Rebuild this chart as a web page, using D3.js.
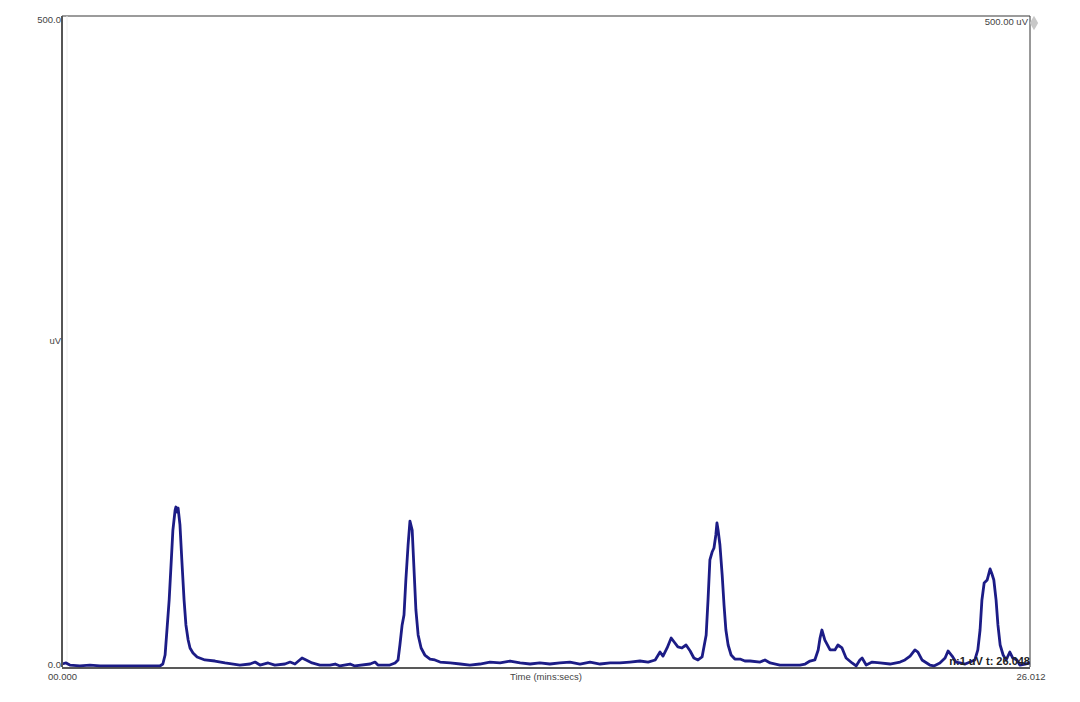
<!DOCTYPE html>
<html><head><meta charset="utf-8">
<script src="https://cdn.jsdelivr.net/npm/d3@7"></script>
<style>body{margin:0;background:#fff}svg{display:block}text{font-family:"Liberation Sans",Arial,sans-serif}</style>
</head><body><svg id="c" width="1080" height="702"></svg>
<script>
// time in minutes
const timeMin = [0.00,0.11,0.21,0.48,0.75,1.02,1.56,2.10,2.63,2.71,2.77,2.82,2.88,2.93,2.98,3.04,3.06,3.09,3.12,3.17,3.22,3.28,3.33,3.39,3.44,3.52,3.63,3.84,4.11,4.38,4.78,5.05,5.19,5.32,5.54,5.72,5.99,6.13,6.26,6.45,6.56,6.72,6.93,7.20,7.34,7.47,7.74,7.87,8.28,8.41,8.49,8.81,8.95,9.03,9.08,9.14,9.19,9.24,9.30,9.35,9.41,9.46,9.51,9.57,9.65,9.75,9.89,10.02,10.16,10.43,10.70,10.96,11.23,11.50,11.77,12.04,12.31,12.58,12.84,13.11,13.38,13.65,13.92,14.19,14.46,14.73,14.99,15.26,15.53,15.75,15.94,16.07,16.15,16.26,16.37,16.45,16.55,16.66,16.77,16.88,16.98,17.09,17.20,17.31,17.36,17.41,17.47,17.52,17.57,17.60,17.63,17.68,17.74,17.79,17.84,17.90,17.98,18.08,18.22,18.35,18.49,18.76,18.89,19.03,19.29,19.56,19.83,19.97,20.10,20.23,20.32,20.37,20.42,20.50,20.64,20.77,20.85,20.96,21.07,21.23,21.34,21.44,21.50,21.61,21.77,21.98,22.25,22.52,22.65,22.79,22.92,23.00,23.11,23.32,23.43,23.59,23.73,23.81,23.92,24.02,24.13,24.27,24.40,24.53,24.61,24.67,24.72,24.78,24.86,24.94,24.99,25.04,25.10,25.15,25.21,25.29,25.37,25.47,25.55,25.66,25.74,25.88,26.01];
// signal in uV
const signalUV = [2.3,3.1,1.5,0.8,1.5,0.8,0.8,0.8,0.8,2.3,9.2,28.4,51.5,78.3,105.2,120.6,122.9,119.0,122.1,109.1,82.2,51.5,32.3,20.7,14.6,10.8,7.7,5.4,4.6,3.1,1.5,2.3,3.8,1.5,3.1,1.5,2.3,3.8,2.3,6.9,5.4,3.1,1.5,1.5,2.3,0.8,2.3,0.8,2.3,3.8,1.5,1.5,3.1,5.4,16.9,32.3,39.9,66.8,93.7,112.1,105.2,74.5,43.8,24.6,14.6,9.2,6.1,5.4,3.8,3.1,2.3,1.5,2.3,3.8,3.1,4.6,3.1,2.3,3.1,2.3,3.1,3.8,2.3,3.8,2.3,3.1,3.1,3.8,4.6,3.8,5.4,11.5,8.4,14.6,22.3,19.2,15.4,14.6,16.9,12.3,6.9,5.4,7.7,24.6,51.5,82.2,88.3,91.4,101.4,110.6,105.2,93.7,70.7,47.6,28.4,16.9,9.2,6.1,6.1,4.6,4.6,3.8,5.4,3.1,1.5,1.5,1.5,2.3,4.6,5.4,13.1,22.3,28.4,20.7,13.1,13.1,16.9,14.6,6.9,3.1,0.8,5.4,6.9,1.5,3.8,3.1,2.3,3.8,5.4,8.4,13.1,11.5,5.4,1.5,0.8,3.1,6.9,12.3,8.4,3.8,3.1,2.3,3.8,5.4,13.1,28.4,51.5,64.5,66.8,75.3,71.4,66.8,51.5,32.3,16.9,9.2,5.4,11.5,6.9,5.4,1.5,2.3,3.1];
const yMaxLabel = "500.0", yMinLabel = "0.0", yUnit = "uV";
const xStartLabel = "00.000", xEndLabel = "26.012", xTitle = "Time (mins:secs)";
const rangeLabel = "500.00 uV", cursorLabel = "n:1 uV t: 26.048";
const data = timeMin.map((t,i)=>({t, v: signalUV[i]}));

const L=62, R=1030, T=16, B=667;
const svg = d3.select("#c");
const x = d3.scaleLinear().domain([0,26.012]).range([L,R]);
const y = d3.scaleLinear().domain([0,500]).range([B,T]);

// frame
svg.append("line").attr("x1",L).attr("x2",R).attr("y1",T).attr("y2",T).attr("stroke","#7a7a7a").attr("stroke-width",1.5);
svg.append("line").attr("x1",R).attr("x2",R).attr("y1",T).attr("y2",B).attr("stroke","#333").attr("stroke-width",1);
svg.append("line").attr("x1",L+5).attr("x2",L+5).attr("y1",T).attr("y2",B).attr("stroke","#eee").attr("stroke-width",1);

const line = d3.line().x(d=>x(d.t)).y(d=>y(d.v));
svg.append("path").datum(data).attr("d",line).attr("fill","none")
  .attr("stroke","#1c1c86").attr("stroke-width",2.8).attr("stroke-linejoin","round");

// axes
svg.append("line").attr("x1",L).attr("x2",L).attr("y1",T).attr("y2",B).attr("stroke","#555").attr("stroke-width",2);
svg.append("line").attr("x1",L).attr("x2",R).attr("y1",B+1).attr("y2",B+1).attr("stroke","#222").attr("stroke-width",1.5);

const txt=(s,xx,yy,anchor,opts={})=>svg.append("text").attr("x",xx).attr("y",yy).attr("text-anchor",anchor)
  .attr("font-size",opts.size||9.5).attr("fill",opts.fill||"#444").attr("font-weight",opts.bold?"bold":"normal").text(s);
txt(yMaxLabel, L-1, y(500)+7, "end");
txt(yMinLabel, L-1, y(0)+1, "end");
txt(yUnit, L-1, y(250)+2, "end");
txt(xStartLabel, L-14, B+13, "start");
txt(xEndLabel, R+1, B+13, "middle");
txt(xTitle, (L+R)/2, B+13, "middle");
txt(rangeLabel, R-2, T+9, "end");
svg.append("path").attr("d",d3.symbol(d3.symbolDiamond,60)()).attr("transform",`translate(${R+4},${T+7})`).attr("fill","#c8c8c8");
txt(cursorLabel, R, B-2, "end", {size:11, fill:"#222", bold:true});
</script></body></html>
